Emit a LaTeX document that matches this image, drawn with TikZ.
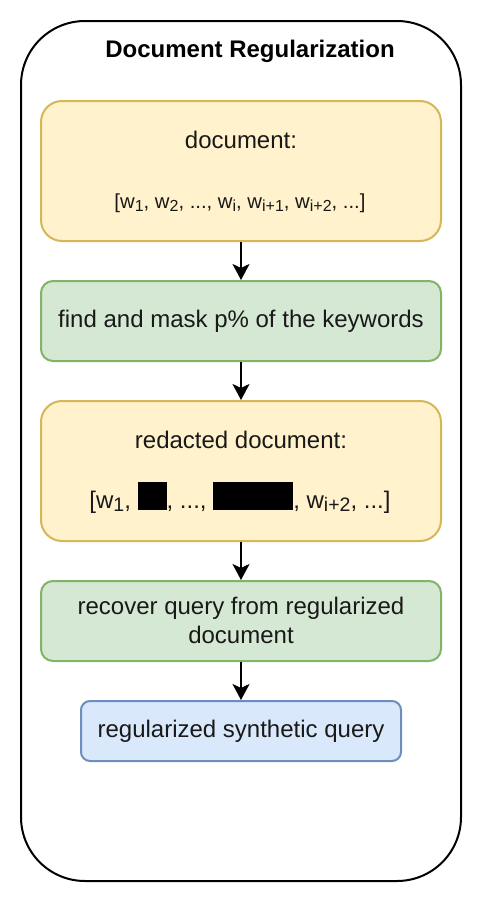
\documentclass[tikz,border=0pt]{standalone}
\usepackage{fontspec}
\setmainfont{Liberation Sans}
\usetikzlibrary{arrows.meta}
\definecolor{docfill}{HTML}{FFF2CC}
\definecolor{docdraw}{HTML}{D6B656}
\definecolor{grnfill}{HTML}{D5E8D4}
\definecolor{grndraw}{HTML}{82B366}
\definecolor{blufill}{HTML}{DAE8FC}
\definecolor{bludraw}{HTML}{6C8EBF}
\newcommand\wsubA[1]{\raisebox{-3pt}{\fontsize{16}{16}\selectfont #1}}
\newcommand\wsubB[1]{\raisebox{-3.5pt}{\fontsize{19.5}{19.5}\selectfont #1}}
\newcommand\redact[1]{\textcolor{black}{\rule[-2pt]{#1}{28pt}}}
\begin{document}
\begin{tikzpicture}[x=1pt,y=-1pt,
  box/.style={rectangle, line width=2pt, inner sep=0pt, minimum width=400pt},
  docbox/.style={box, fill=docfill, draw=docdraw, minimum height=140pt, rounded corners=21pt},
  grnbox/.style={box, fill=grnfill, draw=grndraw, minimum height=80pt, rounded corners=12pt},
  blubox/.style={box, fill=blufill, draw=bludraw, minimum width=320pt, minimum height=60pt, rounded corners=9pt},
  container/.style={rectangle, draw=black, line width=2pt, minimum width=440pt, minimum height=860pt, rounded corners=64pt},
  txt/.style={inner sep=0pt, font=\fontsize{24}{29}\selectfont, text=black!90, align=center},
  smalltxt/.style={inner sep=0pt, font=\fontsize{20.3}{24}\selectfont, text=black!90},
  title/.style={inner sep=0pt, font=\fontsize{24}{29}\selectfont\bfseries},
  flow/.style={line width=2pt, -{Stealth[length=16pt,width=17pt,inset=4pt]}}
]
\useasboundingbox (0,0) rectangle (482,902);
\node[container] (outer) at (241,451) {};
\node[title, anchor=base] (ttl) at (250,57) {Document Regularization};

\node[docbox] (doc) at (241,171) {};
\node[txt, anchor=base] (docA) at (241,148) {document:};
\node[smalltxt, anchor=base] (docB) at (240,208) {[w\wsubA{1}, w\wsubA{2}, ..., w\wsubA{i}, w\wsubA{i+1}, w\wsubA{i+2}, ...]};

\node[grnbox] (mask) at (241,321) {};
\node[txt] (maskT) at (241,321) {find and mask p\% of the keywords};

\node[docbox] (red) at (241,471) {};
\node[txt, anchor=base] (redA) at (241,448) {redacted document:};
\node[txt, anchor=base] (redB) at (240,508) {[w\wsubB{1}, \redact{29pt}, ..., \redact{80pt}, w\wsubB{i+2}, ...]};

\node[grnbox] (rec) at (241,621) {};
\node[txt] (recT) at (241,620) {recover query from regularized\\document};

\node[blubox] (out) at (241,731) {};
\node[txt] (outT) at (241,731) {regularized synthetic query};

\draw[flow] (doc.south) -- (mask.north);
\draw[flow] (mask.south) -- (red.north);
\draw[flow] (red.south) -- (rec.north);
\draw[flow] (rec.south) -- (out.north);
\end{tikzpicture}
\end{document}
